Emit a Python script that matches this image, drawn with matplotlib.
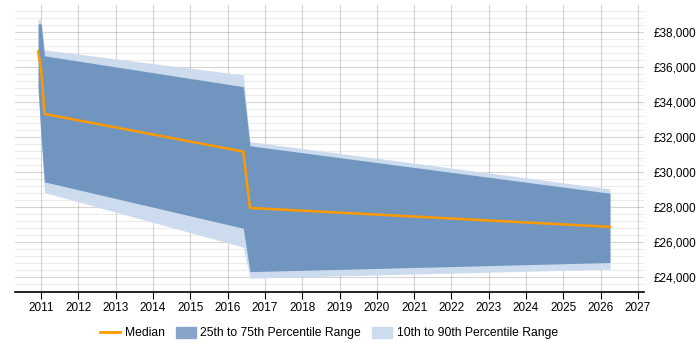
import matplotlib
matplotlib.use("Agg")
import matplotlib.pyplot as plt
from matplotlib.patches import Patch
from matplotlib.lines import Line2D
from matplotlib.ticker import FuncFormatter, MultipleLocator

plt.rcParams['font.family'] = ['Liberation Sans', 'DejaVu Sans']

years = [2010.92, 2011.0, 2011.09, 2016.42, 2016.60, 2026.25]
median = [36880, 35900, 33310, 31160, 27940, 26860]
p25 = [34800, 32000, 29430, 26780, 24300, 24820]
p75 = [38460, 38460, 36630, 34870, 31490, 28780]
p10 = [34600, 31800, 28820, 25700, 23930, 24440]
p90 = [38700, 38700, 36970, 35540, 31730, 29030]
xticks = list(range(2011, 2028))
yticks = list(range(24000, 38001, 2000))

fig = plt.figure(figsize=(7, 3.5), dpi=100)
ax = fig.add_axes([0.0214, 0.166, 0.899, 0.82])

ax.fill_between(years, p10, p90, color='#ccdcee', lw=0, zorder=2)
ax.fill_between(years, p25, p75, color='#7096c0', lw=0, zorder=3)
ax.plot(years, median, color='#ff9900', lw=1.8, zorder=5)

ax.set_xlim(2010.3, 2027.17)
ax.set_ylim(23143, 39540)
ax.set_xticks(xticks)
ax.set_xticklabels([str(y) for y in xticks], fontsize=8.5)
ax.set_yticks(yticks)
ax.yaxis.set_minor_locator(MultipleLocator(400))
ax.yaxis.set_major_formatter(FuncFormatter(lambda v, p: f"£{int(v):,}"))
ax.yaxis.tick_right()
ax.tick_params(axis='y', which='both', length=0, labelsize=8.5, pad=7)
ax.tick_params(axis='x', length=5, color='black', labelsize=8.5, pad=2)

ax.grid(axis='x', color='black', alpha=0.17, lw=0.8, zorder=4)
ax.grid(axis='y', which='major', color='black', alpha=0.17, lw=0.8, zorder=4)
ax.grid(axis='y', which='minor', color='black', alpha=0.08, lw=0.8, zorder=4)

for s in ['top', 'left', 'right']:
    ax.spines[s].set_visible(False)
ax.spines['bottom'].set_color('black')
ax.spines['bottom'].set_linewidth(1.2)
ax.spines['bottom'].set_zorder(6)

handles = [Line2D([0], [0], color='#ff9900', lw=2),
           Patch(color='#87a5c8'),
           Patch(color='#ccdcee')]
labels = ['Median', '25th to 75th Percentile Range', '10th to 90th Percentile Range']
fig.legend(handles, labels, loc='center', bbox_to_anchor=(0.47, 0.048), ncol=3,
           frameon=False, fontsize=8.7, handlelength=1.65, handleheight=1.0,
           columnspacing=0.9, handletextpad=0.4)

fig.savefig('out.png', dpi=100)
